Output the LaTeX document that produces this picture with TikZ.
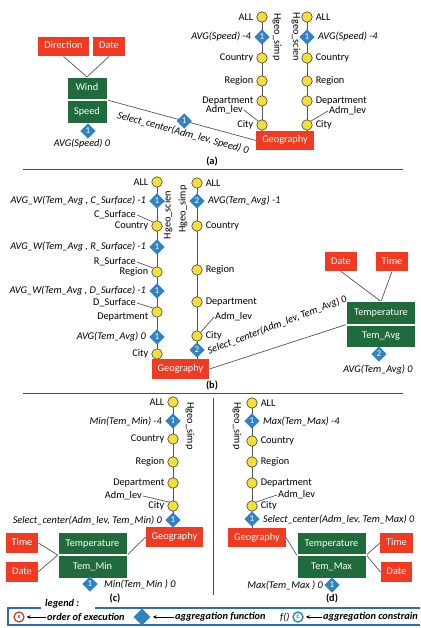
\documentclass[tikz,border=0pt]{standalone}
\usepackage{fontspec}
\setmainfont{Carlito}
\usepackage{tikz}
\usetikzlibrary{arrows.meta,positioning,calc,shapes.geometric,backgrounds}
\definecolor{dimc}{HTML}{F23A22}
\definecolor{factc}{HTML}{1F6B3B}
\definecolor{aggc}{HTML}{2F82C6}
\definecolor{lvlc}{HTML}{F4DF3A}
\definecolor{linec}{HTML}{555555}
\definecolor{legc}{HTML}{2E6DB4}
\definecolor{ordc}{HTML}{E0301E}
\tikzset{
  every node/.style={font=\fontsize{10.3}{12}\selectfont},
  dim/.style={fill=dimc, text=white, minimum height=19.5pt, inner xsep=6pt, inner ysep=0pt,
              text height=7pt, text depth=2pt},
  fact/.style={fill=factc, draw=white, line width=0.6pt, text=white, minimum width=#1,
               minimum height=22.5pt, inner sep=0pt, text height=7pt, text depth=2pt},
  lvl/.style={circle, draw=black!75, fill=lvlc, minimum size=10.5pt, inner sep=0pt, line width=0.6pt},
  agg/.style={diamond, fill=aggc, text=white, minimum size=15.5pt, inner sep=0pt,
              font=\fontsize{9}{9}\selectfont},
  lbl/.style={inner sep=1pt},
  fn/.style={inner sep=1pt, font=\fontsize{10.3}{12}\selectfont\itshape},
  hname/.style={inner sep=0pt},
  link/.style={draw=linec, line width=0.7pt},
  rule/.style={draw=black!70, line width=0.8pt},
  subcap/.style={font=\fontsize{10.3}{12}\selectfont\bfseries, inner sep=1pt},
  legtxt/.style={font=\fontsize{10.3}{12}\selectfont\bfseries\itshape, inner sep=1pt},
  legframe/.style={draw=legc, line width=1.6pt},
  legarrow/.style={-{Stealth[length=4pt,width=3.5pt]}, line width=0.7pt, shorten >=2pt},
}
% one level of a hierarchy: circle + its name
\newcommand{\hlevel}[4]{\node[lvl] (#1) at (#2) {}; \node[lbl, #3=2pt of #1] (#1t) {#4};}
% one aggregation diamond + its function
\newcommand{\aggnode}[5]{\node[agg] (#1) at (#2) {#3}; \node[fn, #4=2pt of #1] (#1t) {#5};}

\begin{document}
\begin{tikzpicture}[x=1pt,y=-1pt]
  \useasboundingbox (0,0) rectangle (420,628);
  \clip (0,0) rectangle (420,628);

  % ---------------- (a)
  \node[dim] (dira) at (63.5,46.5) {Direction};
  \node[dim] (datea) at (109,46.5) {Date};
  \node[fact=40pt] (winda) at (87,88.5) {Wind};
  \node[fact=40pt, below=0pt of winda] (speeda) {Speed};
  \node[agg] (aggsp) at (88,131) {1};
  \node[fn] (aggspt) at (82,144) {AVG(Speed) 0};
  \node[dim] (geoa) at (285,140.5) {Geography};

  \hlevel{a1all}{262,17}{left}{ALL}
  \hlevel{a1cty}{262,58}{left}{Country}
  \hlevel{a1reg}{262,81}{left}{Region}
  \hlevel{a1dep}{262,101}{left}{Department}
  \hlevel{a1city}{262,125}{left}{City}
  \aggnode{a1agg}{262,37}{1}{left}{AVG(Speed) -4}
  \node[lbl, anchor=east] (a1adm) at (244,110) {Adm\_lev};
  \node[hname, rotate=-90] (a1name) at (277,37) {Hgeo\_simp};

  \hlevel{a2all}{307,17}{right}{ALL}
  \hlevel{a2cty}{307,58}{right}{Country}
  \hlevel{a2reg}{307,81}{right}{Region}
  \hlevel{a2dep}{307,101}{right}{Department}
  \hlevel{a2city}{307,125}{right}{City}
  \aggnode{a2agg}{307,37}{1}{right}{AVG(Speed) -4}
  \node[lbl, anchor=west] (a2adm) at (328,111) {Adm\_lev};
  \node[hname, rotate=-90] (a2name) at (296,37) {Hgeo\_scien};

  \node[subcap] (capa) at (212,161) {(a)};
  \draw[rule] (23,169) -- (403,169);

  % ---------------- (b)
  \hlevel{b1all}{157,182}{left}{ALL}
  \hlevel{b1cty}{157,226}{left}{Country}
  \hlevel{b1reg}{157,272}{left}{Region}
  \node[lvl] (b1dep) at (157,312) {};
  \node[lbl, left=2pt of b1dep, yshift=-5pt] (b1dept) {Department};
  \hlevel{b1city}{157,354}{left}{City}
  \aggnode{b1agga}{157,201}{1}{left}{AVG\_W(Tem\_Avg , C\_Surface) -1}
  \aggnode{b1aggb}{157,247}{1}{left}{AVG\_W(Tem\_Avg , R\_Surface) -1}
  \aggnode{b1aggc}{157,291}{1}{left}{AVG\_W(Tem\_Avg , D\_Surface) -1}
  \aggnode{b1aggd}{157,337}{1}{left}{AVG(Tem\_Avg) 0}
  \node[lbl, anchor=east] (b1cs) at (137,215) {C\_Surface};
  \node[lbl, anchor=east] (b1rs) at (137,262) {R\_Surface};
  \node[lbl, anchor=east] (b1ds) at (137,303) {D\_Surface};
  \node[hname, rotate=90] (b1name) at (168,215) {Hgeo\_scien};

  \hlevel{b2all}{197,183}{right}{ALL}
  \hlevel{b2cty}{197,226}{right}{Country}
  \hlevel{b2reg}{197,270}{right}{Region}
  \hlevel{b2dep}{197,302}{right}{Department}
  \hlevel{b2city}{197,336}{right}{City}
  \aggnode{b2agg}{197,201}{2}{right}{AVG(Tem\_Avg) -1}
  \node[agg] (b2sel) at (197,350) {2};
  \node[fn, rotate=21, anchor=west] (b2selt) at ([xshift=2pt,yshift=-2pt]b2sel.east) {Select\_center(Adm\_lev, Tem\_Avg) 0};
  \node[lbl, anchor=west] (b2adm) at (214,317) {Adm\_lev};
  \node[hname, rotate=90] (b2name) at (183,209) {Hgeo\_simp};

  \node[dim] (geob) at (180.5,369) {Geography};
  \node[dim] (dateb) at (341,261.5) {Date};
  \node[dim] (timeb) at (392,261.5) {Time};
  \node[fact=69pt] (tempb) at (381,313) {Temperature};
  \node[fact=69pt, below=0pt of tempb] (tavgb) {Tem\_Avg};
  \node[agg] (tavgagg) at (379,354) {2};
  \node[fn] (tavgaggt) at (378,370) {AVG(Tem\_Avg) 0};

  \node[subcap] (capb) at (212,385) {(b)};
  \draw[rule] (23,393) -- (403,393);
  \draw[rule] (213,398) -- (213,595);

  % ---------------- (c)
  \hlevel{c1all}{173,402}{left}{ALL}
  \hlevel{c1cty}{173,439}{left}{Country}
  \hlevel{c1reg}{173,462}{left}{Region}
  \hlevel{c1dep}{173,483}{left}{Department}
  \hlevel{c1city}{173,506}{left}{City}
  \aggnode{c1agg}{173,421}{1}{left}{Min(Tem\_Min) -4}
  \aggnode{c1sel}{173,520}{1}{left}{Select\_center(Adm\_lev, Tem\_Min) 0}
  \node[lbl, anchor=east] (c1adm) at (143,496) {Adm\_lev};
  \node[hname, rotate=-90] (c1name) at (190,426) {Hgeo\_simp};

  \node[dim] (geoc) at (174.5,537) {Geography};
  \node[fact=69pt] (tempc) at (92.5,543.5) {Temperature};
  \node[fact=69pt, below=0pt of tempc] (tminc) {Tem\_Min};
  \node[dim] (timec) at (22,543) {Time};
  \node[dim] (datec) at (22,572) {Date};
  \node[agg] (tminagg) at (90,584) {1};
  \node[fn, right=5pt of tminagg] (tminaggt) {Min(Tem\_Min ) 0};
  \node[subcap] (capc) at (115,598) {(c)};

  % ---------------- (d)
  \hlevel{d1all}{252,403}{right}{ALL}
  \hlevel{d1cty}{252,441}{right}{Country}
  \hlevel{d1reg}{252,462}{right}{Region}
  \hlevel{d1dep}{252,483}{right}{Department}
  \hlevel{d1city}{252,506}{right}{City}
  \aggnode{d1agg}{252,421}{1}{right}{Max(Tem\_Max) -4}
  \aggnode{d1sel}{252,519}{1}{right}{Select\_center(Adm\_lev, Tem\_Max) 0}
  \node[lbl, anchor=west] (d1adm) at (277,495) {Adm\_lev};
  \node[hname, rotate=-90] (d1name) at (237,426) {Hgeo\_simp};

  \node[dim] (geod) at (257,537.5) {Geography};
  \node[fact=69pt] (tempd) at (331.5,543.5) {Temperature};
  \node[fact=69pt, below=0pt of tempd] (tmaxd) {Tem\_Max};
  \node[dim] (timed) at (396.5,543) {Time};
  \node[dim] (dated) at (396.5,572) {Date};
  \node[agg] (tmaxagg) at (332,585) {1};
  \node[fn, left=0pt of tmaxagg] (tmaxaggt) {Max(Tem\_Max ) 0};
  \node[subcap] (capd) at (332,598) {(d)};

  % ---------------- legend
  \node[legtxt, anchor=west] (lgd) at (44,604) {legend :};
  \draw[legframe] (41,608) -- (8,608) -- (8,625) -- (432,625) -- (432,608) -- (95,608);
  \node[circle, draw=ordc, line width=1.2pt, minimum size=10pt, inner sep=0pt,
        font=\fontsize{6}{6}\selectfont\itshape] (ordx) at (19,617) {x};
  \node[legtxt, anchor=west] (ordt) at (46,617) {order of execution};
  \node[agg, minimum size=17pt] (legd) at (142,617) {};
  \node[legtxt, anchor=west] (aggt) at (174,617) {aggregation function};
  \node[fn, anchor=west] (fcall) at (279,617) {f()};
  \node[circle, draw=aggc, line width=1.4pt, minimum size=10pt, inner sep=0pt, text=legc,
        font=\fontsize{7}{7}\selectfont\bfseries] (cons) at (298,617) {c};
  \node[legtxt, anchor=west] (const) at (322,617) {aggregation constrain};
  \draw[legarrow] (ordt.west) -- (ordx.east);
  \draw[legarrow] (aggt.west) -- (legd.east);
  \draw[legarrow] (const.west) -- (cons.east);

  % ---------------- connectors
  \begin{scope}[on background layer]
    \draw[link] (dira.south) -- (winda.north);
    \draw[link] (datea.south) -- (winda.north);
    \draw[link] (a1all.center) -- (a1all.center |- geoa.north);
    \draw[link] (a2all.center) -- (a2all.center |- geoa.north);
    \draw[link] (a1adm.east) -- (a1city.north west);
    \draw[link] (a2adm.west) -- (a2city.north east);
    \draw[link] (winda.south east) -- node[agg, pos=0.517] (sela) {1}
      node[fn, sloped, below=6pt, pos=0.53] (selat) {Select\_center(Adm\_lev, Speed) 0} (geoa.west);

    \draw[link] (b1all.center) -- (b1all.center |- geob.north);
    \draw[link] (b2all.center) -- (b2all.center |- geob.north);
    \draw[link] (b1cs.east) -- (b1cty.north west);
    \draw[link] (b1rs.east) -- (b1reg.north west);
    \draw[link] (b1ds.east) -- (b1dep.north west);
    \draw[link] (b2adm.west) -- (b2city.north east);
    \draw[link] (dateb.south) -- (tempb.north);
    \draw[link] (timeb.south) -- (tempb.north);
    \draw[link] (geob.east) -- (tempb.south west);

    \draw[link] (c1all.center) -- (c1all.center |- geoc.north);
    \draw[link] (c1adm.east) -- (c1city.north west);
    \draw[link] (timec.east) -- (tempc.south west);
    \draw[link] (datec.east) -- (tempc.south west);
    \draw[link] (geoc.west) -- (tempc.south east);

    \draw[link] (d1all.center) -- (d1all.center |- geod.north);
    \draw[link] (d1adm.west) -- (d1city.north east);
    \draw[link] (geod.east) -- (tempd.south west);
    \draw[link] (tempd.south east) -- (timed.west);
    \draw[link] (tempd.south east) -- (dated.west);
  \end{scope}
\end{tikzpicture}
\end{document}
